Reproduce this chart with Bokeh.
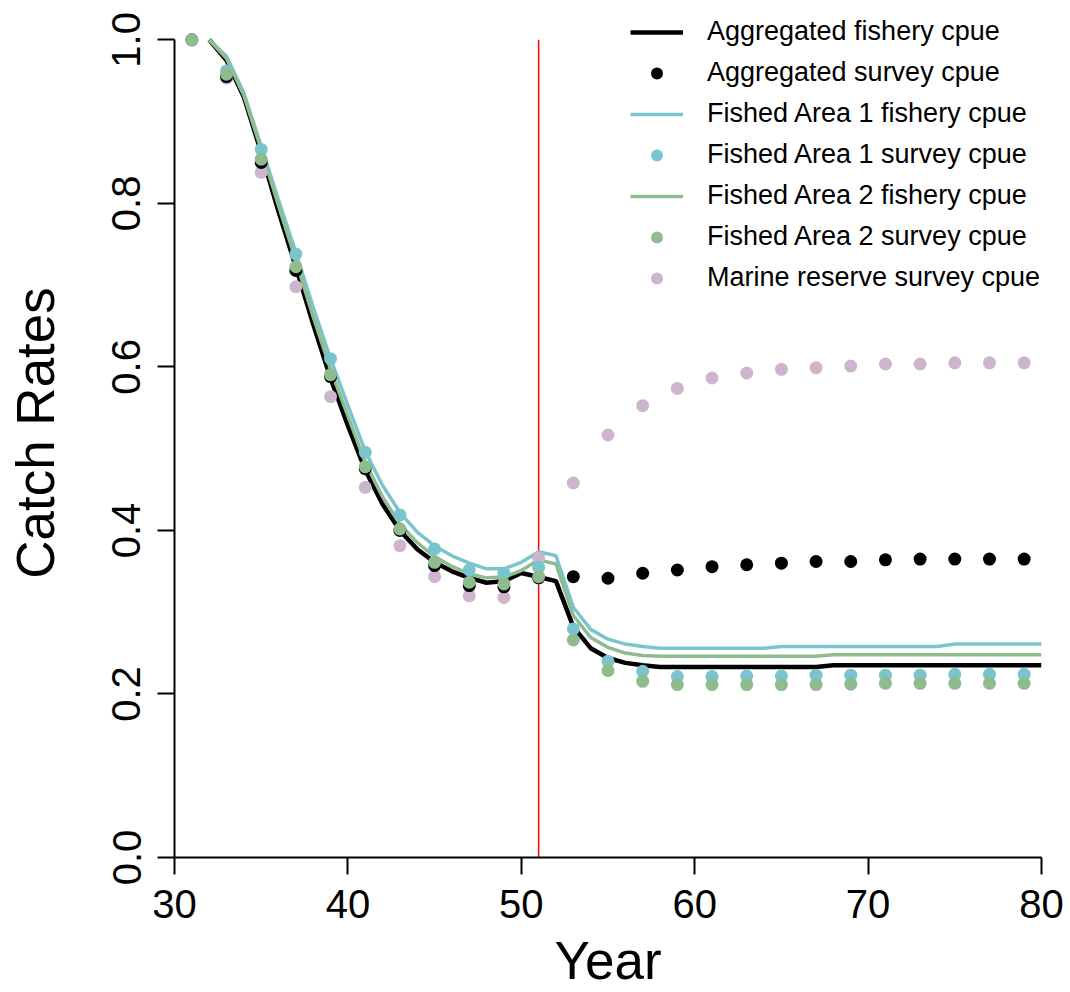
from bokeh.plotting import figure
from bokeh.models import Range1d, FixedTicker, PrintfTickFormatter, Legend, LegendItem
from bokeh.embed import file_html
from bokeh.resources import INLINE

# ---- data ----
survey_years = list(range(31, 80, 2))
agg_survey = [1.0, 0.955, 0.85, 0.718, 0.588, 0.4755, 0.40, 0.357, 0.3325, 0.331, 0.342,
              0.3435, 0.3415, 0.3476, 0.3516, 0.3557, 0.358, 0.360, 0.362, 0.362, 0.364,
              0.365, 0.365, 0.365, 0.365]
area1_survey = [1.0, 0.962, 0.866, 0.738, 0.61, 0.4955, 0.419, 0.3774, 0.3517, 0.3476, 0.355,
                0.2795, 0.240, 0.2278, 0.2213, 0.2213, 0.222, 0.222, 0.223, 0.223, 0.223,
                0.223, 0.224, 0.224, 0.224]
area2_survey = [1.0, 0.958, 0.854, 0.7225, 0.5905, 0.478, 0.4018, 0.361, 0.3366, 0.3346, 0.3435,
                0.266, 0.2286, 0.2155, 0.2115, 0.2115, 0.2115, 0.2115, 0.2115, 0.212, 0.213,
                0.213, 0.213, 0.213, 0.213]
reserve_survey = [1.0, 0.953, 0.838, 0.698, 0.5636, 0.4527, 0.3814, 0.3435, 0.320, 0.318, 0.3664,
                  0.458, 0.5167, 0.5526, 0.5737, 0.5864, 0.5925, 0.597, 0.599, 0.601, 0.6035,
                  0.6035, 0.605, 0.605, 0.605]

fishery_years = list(range(32, 81))
agg_fishery = [1.000, 0.975, 0.930, 0.862, 0.790, 0.722, 0.652, 0.586, 0.528, 0.474,
               0.432, 0.400, 0.377, 0.361, 0.350, 0.342, 0.336, 0.338, 0.348, 0.343,
               0.338, 0.282, 0.256, 0.244, 0.238, 0.235,
               0.233, 0.233, 0.233, 0.233, 0.233, 0.233, 0.233, 0.233, 0.233, 0.233,
               0.235, 0.235, 0.235, 0.235, 0.235, 0.235, 0.235, 0.235, 0.235, 0.235,
               0.235, 0.235, 0.235]
area1_fishery = [1.000, 0.980, 0.935, 0.870, 0.804, 0.740, 0.673, 0.610, 0.553, 0.497,
                 0.455, 0.422, 0.398, 0.381, 0.369, 0.360, 0.353, 0.353, 0.361, 0.374,
                 0.369, 0.306, 0.279, 0.267, 0.261, 0.258,
                 0.256, 0.256, 0.256, 0.256, 0.256, 0.256, 0.256,
                 0.258, 0.258, 0.258, 0.258, 0.258, 0.258, 0.258, 0.258, 0.258, 0.258,
                 0.261, 0.261, 0.261, 0.261, 0.261, 0.261]
area2_fishery = [1.000, 0.977, 0.932, 0.866, 0.797, 0.730, 0.661, 0.597, 0.540, 0.483,
                 0.441, 0.408, 0.385, 0.368, 0.356, 0.347, 0.342, 0.343, 0.351, 0.364,
                 0.359, 0.296, 0.269, 0.257, 0.250, 0.247,
                 0.246, 0.246, 0.246, 0.246, 0.246, 0.246, 0.246, 0.246, 0.246, 0.246,
                 0.248, 0.248, 0.248, 0.248, 0.248, 0.248, 0.248, 0.248, 0.248, 0.248,
                 0.248, 0.248, 0.248]

reserve_year = 51
x_ticks = [30, 40, 50, 60, 70, 80]
y_ticks = [0.0, 0.2, 0.4, 0.6, 0.8, 1.0]

labels = ["Aggregated fishery cpue", "Aggregated survey cpue",
          "Fished Area 1 fishery cpue", "Fished Area 1 survey cpue",
          "Fished Area 2 fishery cpue", "Fished Area 2 survey cpue",
          "Marine reserve survey cpue"]

BLACK = "#000000"
CYAN = "#7AC5CD"
GREEN = "#8FBC8F"
PINK = "#CDB5CD"
FONT = "Liberation Sans"

p = figure(width=1066, height=992, output_backend="svg", toolbar_location=None,
           x_range=Range1d(30, 80), y_range=Range1d(0, 1.0383),
           min_border_left=174, min_border_right=25, min_border_top=8,
           min_border_bottom=135)
p.outline_line_color = None
p.grid.visible = False
p.background_fill_color = "white"

# reserve line
p.segment(x0=[reserve_year], y0=[0], x1=[reserve_year], y1=[1], line_color="#FF0000",
          line_width=1.5)

r_agg_f = p.line(fishery_years, agg_fishery, line_color=BLACK, line_width=4.5)
r_a1_f = p.line(fishery_years, area1_fishery, line_color=CYAN, line_width=3.5)
r_a2_f = p.line(fishery_years, area2_fishery, line_color=GREEN, line_width=3.5)
r_res_s = p.scatter(survey_years, reserve_survey, size=13, fill_color=PINK, line_color=None)
r_agg_s = p.scatter(survey_years, agg_survey, size=13, fill_color=BLACK, line_color=None)
r_a1_s = p.scatter(survey_years, area1_survey, size=13, fill_color=CYAN, line_color=None)
r_a2_s = p.scatter(survey_years, area2_survey, size=13, fill_color=GREEN, line_color=None)

renderers = [r_agg_f, r_agg_s, r_a1_f, r_a1_s, r_a2_f, r_a2_s, r_res_s]
legend = Legend(items=[LegendItem(label=l, renderers=[r]) for l, r in zip(labels, renderers)],
                location=(456, 564), border_line_color=None, background_fill_alpha=0,
                padding=0, margin=0, spacing=10, glyph_width=53, glyph_height=30,
                label_height=30, label_standoff=24,
                label_text_font=FONT, label_text_font_size="27px", label_text_color="#000000")
p.add_layout(legend, "center")

# axes
for ax in (p.xaxis[0], p.yaxis[0]):
    ax.axis_line_width = 2
    ax.major_tick_line_width = 2
    ax.major_tick_out = 17
    ax.major_tick_in = 0
    ax.minor_tick_out = 0
    ax.minor_tick_in = 0
    ax.major_label_text_font = FONT
    ax.major_label_text_font_size = "40px"
    ax.major_label_text_color = "#000000"
    ax.axis_label_text_font = FONT
    ax.axis_label_text_font_style = "normal"
    ax.axis_label_text_font_size = "53px"
    ax.axis_label_text_color = "#000000"

p.xaxis.ticker = FixedTicker(ticks=x_ticks)
p.yaxis.ticker = FixedTicker(ticks=y_ticks)
p.yaxis.formatter = PrintfTickFormatter(format="%.1f")
p.yaxis.bounds = (0, 1)
p.yaxis.major_label_orientation = "vertical"
p.xaxis.axis_label = "Year"
p.yaxis.axis_label = "Catch Rates"
p.xaxis.major_label_standoff = 15
p.xaxis.axis_label_standoff = 10
p.yaxis.major_label_standoff = 17
p.yaxis.axis_label_standoff = 45

open("out.html", "w").write(file_html(p, INLINE))
